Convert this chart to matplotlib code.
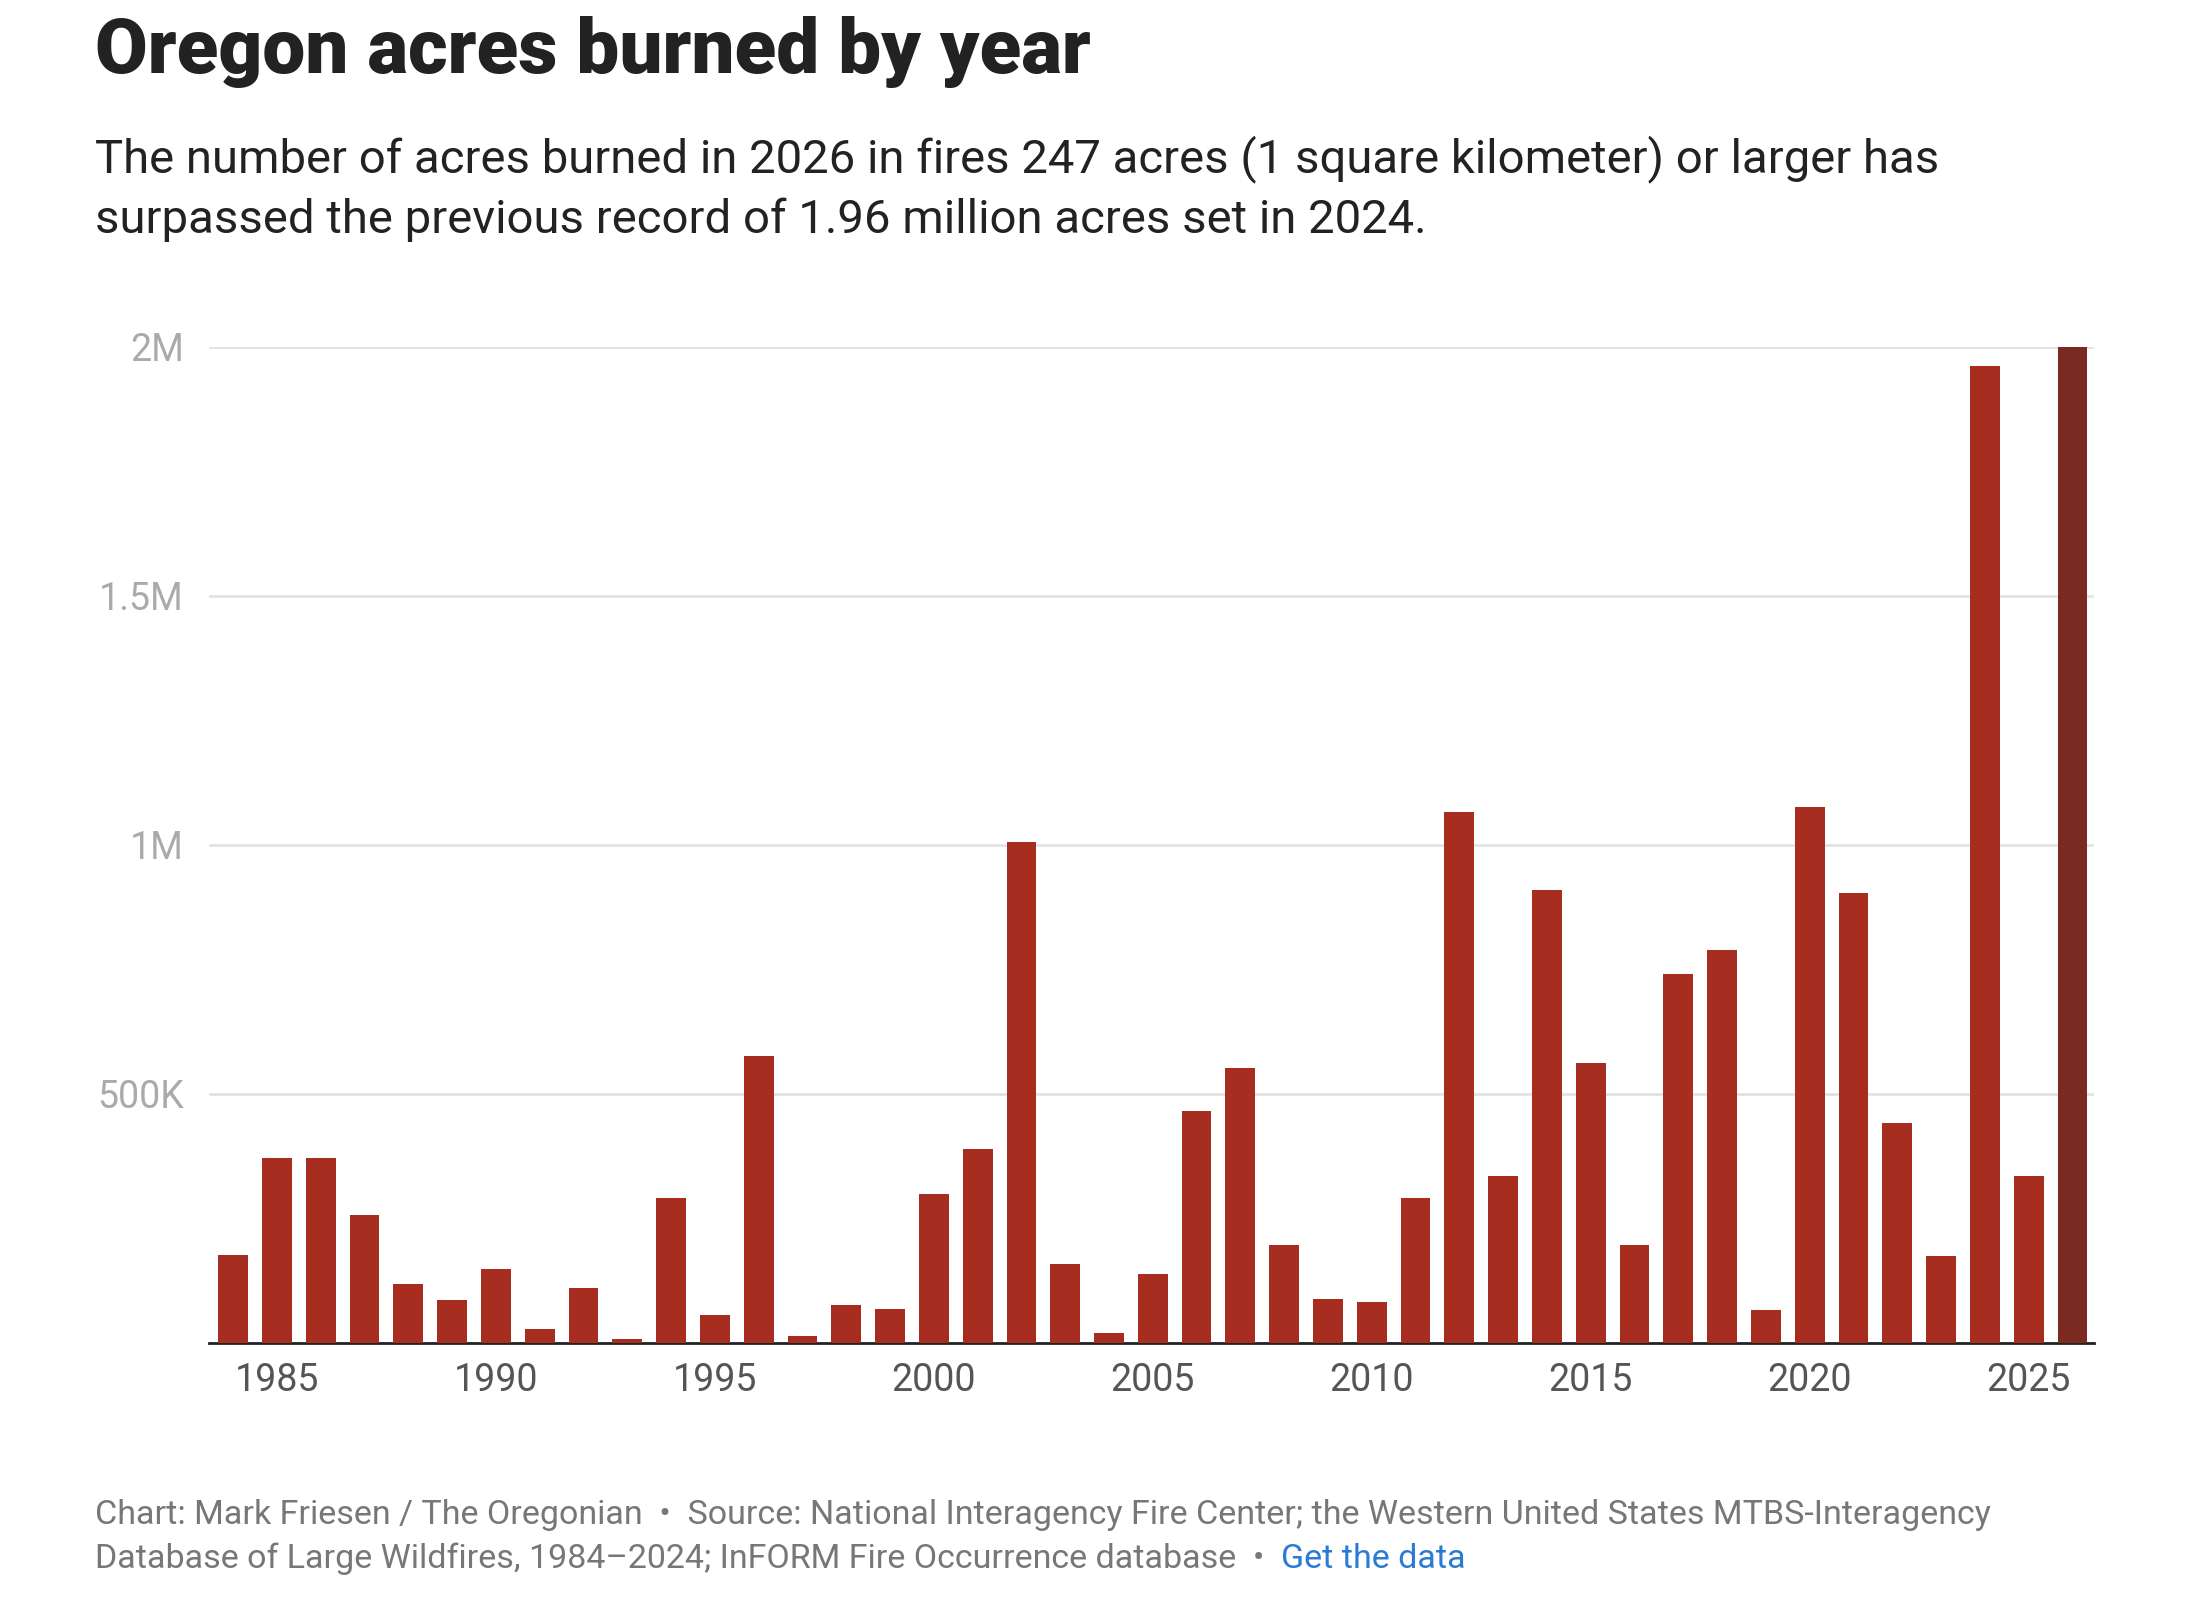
import matplotlib
matplotlib.use("Agg")
import matplotlib.pyplot as plt

years = list(range(1984, 2027))
acres_m = [0.177, 0.372, 0.372, 0.256, 0.118, 0.085, 0.149, 0.028, 0.110, 0.008,
           0.290, 0.056, 0.575, 0.014, 0.076, 0.068, 0.299, 0.389, 1.006, 0.158,
           0.020, 0.138, 0.465, 0.552, 0.197, 0.087, 0.082, 0.290, 1.065, 0.335,
           0.910, 0.561, 0.197, 0.741, 0.789, 0.065, 1.076, 0.904, 0.442, 0.175,
           1.961, 0.335, 2.003]
yticks = [0, 0.5, 1.0, 1.5, 2.0]
ytick_labels = ["", "500K", "1M", "1.5M", "2M"]
xticks = [1985, 1990, 1995, 2000, 2005, 2010, 2015, 2020, 2025]

plt.rcParams['font.family'] = ['Roboto', 'DejaVu Sans']
fig = plt.figure(figsize=(22, 16.1), dpi=100)
ax = fig.add_axes([0.095, 0.166, 0.857, 0.6185])
colors = ['#a62d1f'] * (len(years) - 1) + ['#7b2a22']
ax.bar(years, acres_m, width=0.68, color=colors, zorder=3)
ax.set_ylim(0, 2.0)
ax.set_xlim(1983.45, 2026.5)
ax.set_yticks(yticks)
ax.set_yticklabels(ytick_labels)
ax.set_xticks(xticks)
ax.grid(axis='y', color='#e3e3e3', linewidth=2, zorder=0)
for s in ['top', 'right', 'left']:
    ax.spines[s].set_visible(False)
ax.spines['bottom'].set_color('#222222')
ax.spines['bottom'].set_linewidth(2)
ax.tick_params(axis='y', length=0, labelsize=27, labelcolor='#aaaaaa', pad=18)
ax.tick_params(axis='x', length=0, labelsize=27, labelcolor='#555555', pad=14)

fig.text(0.043, 0.99, "Oregon acres burned by year", fontsize=55, fontweight='heavy',
         color='#222222', va='top')
fig.text(0.043, 0.916, "The number of acres burned in 2026 in fires 247 acres (1 square kilometer) or larger has\n"
         "surpassed the previous record of 1.96 million acres set in 2024.",
         fontsize=34, color='#222222', va='top', linespacing=1.4)
fig.text(0.043, 0.049, "Chart: Mark Friesen / The Oregonian  \u2022  Source: National Interagency Fire Center; the Western United States MTBS-Interagency",
         fontsize=24.5, color='#777777', va='bottom')
t = fig.text(0.043, 0.022, "Database of Large Wildfires, 1984\u20132024; InFORM Fire Occurrence database  \u2022  ",
             fontsize=24.5, color='#777777', va='bottom')
fig.canvas.draw()
bb = t.get_window_extent()
x1 = bb.x1 / fig.bbox.width
fig.text(x1, 0.022, "Get the data", fontsize=24.5, color='#2b7bd6', va='bottom')
fig.savefig("out.png", dpi=100, facecolor='white')
